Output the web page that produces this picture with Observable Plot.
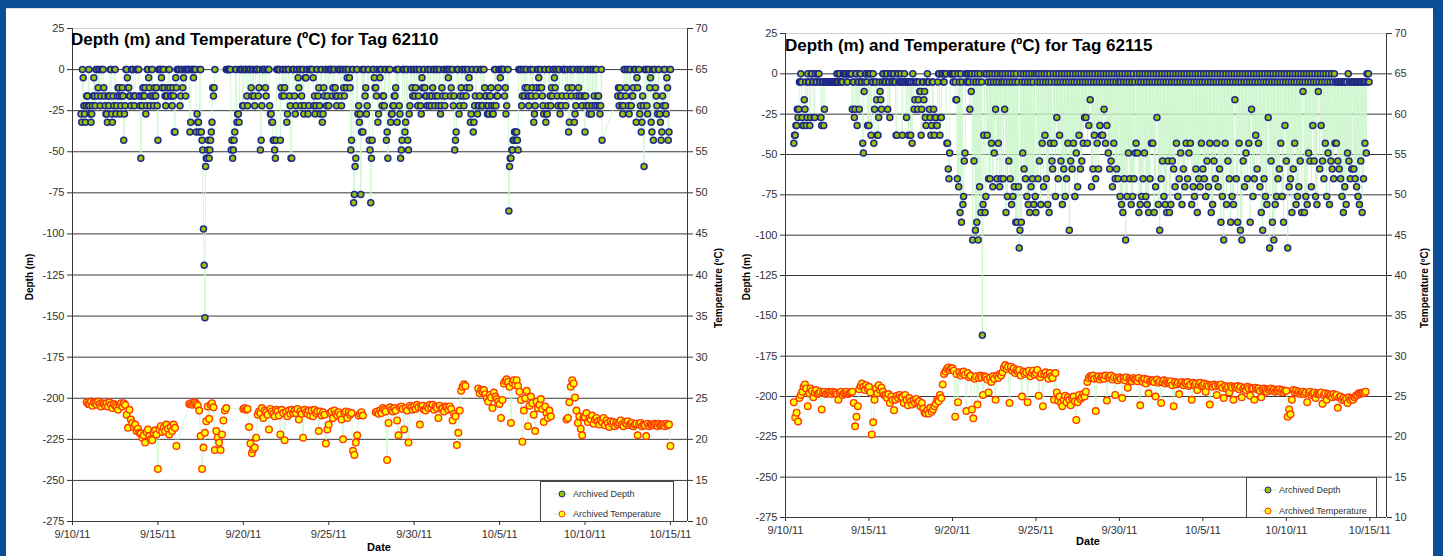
<!DOCTYPE html>
<html><head><meta charset="utf-8">
<script src="https://cdn.jsdelivr.net/npm/d3@7"></script>
<script src="https://cdn.jsdelivr.net/npm/@observablehq/plot@0.6"></script>
<style>
body{margin:0;background:#fff;font-family:"Liberation Sans",Arial,sans-serif;}
#wrap{position:relative;width:1443px;height:556px;overflow:hidden;background:#fff;}
.bar{position:absolute;background:#0b4d97;}
.abs{position:absolute;white-space:nowrap;}
.panel{position:absolute;top:0;}
.title{position:absolute;white-space:nowrap;font-weight:bold;font-size:17px;color:#000;line-height:20px;}
.ylab{position:absolute;white-space:nowrap;font-weight:bold;font-size:10px;color:#000;transform:translate(-50%,-50%) rotate(-90deg);}
.xlab{position:absolute;white-space:nowrap;font-weight:bold;font-size:11px;color:#000;transform:translate(-50%,-50%);}
.legend{position:absolute;border:1px solid #444;background:#fff;font-size:9px;color:#333;box-sizing:border-box;}
.legend .item{position:absolute;left:0;height:12px;display:flex;align-items:center;}
</style></head><body><div id="wrap"></div>
<script>
// ---------- shared axis values ----------
const dateTicks = ["2011-09-10","2011-09-15","2011-09-20","2011-09-25","2011-09-30","2011-10-05","2011-10-10","2011-10-15"];
const xDomain = ["2011-09-10","2011-10-16"];
const depthTicks = [25,0,-25,-50,-75,-100,-125,-150,-175,-200,-225,-250,-275];
const tempTicks  = [70,65,60,55,50,45,40,35,30,25,20,15,10];
const seriesNames = ["Archived Depth","Archived Temperature"];

// ---------- Tag 62110 ----------
const title62110 = "Depth (m) and Temperature (ºC) for Tag 62110";
const depthStart62110 = "2011-09-10T12:00:00Z";   // hourly depth (m)
const depth62110 = [
-27,-32,0,-5,-22,-27,-32,-22,-16,-16,-22,0,
-22,-27,-32,-27,-22,-16,-5,-16,-22,0,0,-16,-11,0,0,-22,-16,0,0,0,-11,-16,-22,-27,
-27,-32,-16,-22,-16,0,0,-27,-32,-16,-22,0,0,-27,-22,-16,-11,-11,-16,-27,-22,-16,-11,-16,
-43,-27,-22,0,0,-5,-11,-11,-16,-16,-22,0,0,0,-16,-22,-16,0,0,0,0,0,-16,-22,
-54,-16,-22,-11,-16,-16,-11,-27,-22,0,0,-5,-11,-22,-16,0,0,-16,-22,-11,-16,-16,-11,-22,
-43,0,0,0,0,-5,-11,0,0,-11,-16,-22,-16,-16,-11,0,0,-11,-16,-16,-22,-11,-16,-38,
-38,-5,-11,0,0,0,0,-22,-16,0,0,-11,-5,0,0,-16,0,0,0,0,0,-38,-32,0,
0,0,-5,0,0,0,-38,-27,-32,-32,-38,0,0,-38,-43,-49,-97,-119,-151,-59,-54,-54,-49,-43,
-54,-49,-43,-38,-32,-11,-16,-11,0,null,null,null,null,null,null,null,null,null,null,null,null,null,null,null,
0,0,0,0,0,0,0,-49,-43,-54,-49,-43,-38,0,0,-32,-27,-27,-32,0,0,0,0,-22,
-22,0,0,0,0,-16,-22,0,0,0,0,-11,-16,0,0,-16,-22,0,0,0,0,-16,-11,0,
-49,-43,-22,0,0,0,0,-11,-16,0,0,0,0,-22,-27,-27,-32,-32,-43,-43,-49,-54,-43,0,
0,0,0,0,-43,-11,-16,0,0,-16,-11,0,0,-32,-27,0,0,-16,-22,-54,-54,0,0,0,
-16,-27,-22,0,0,-5,-11,0,0,-22,-16,0,0,-27,-22,-5,-5,0,0,-27,-22,0,0,0,
0,0,-5,-22,-16,-27,-22,0,0,-16,-11,-22,-27,0,0,-32,-27,-11,-16,0,0,-22,-16,0,
-22,0,0,0,0,-16,-11,0,0,-11,-16,-22,-16,0,0,0,0,-16,-22,0,0,-11,-16,0,
0,-11,-5,0,0,-5,-11,-49,-43,0,0,-81,-76,-59,-54,0,0,-27,-22,-32,-27,-76,-38,0,
-38,0,0,-16,-11,-27,-22,0,0,-43,-49,-81,-54,-43,0,0,-5,-11,-11,-16,0,-32,-27,0,
-5,0,0,-22,-16,-16,-22,0,0,-43,-38,-54,0,0,0,-32,-27,-27,-22,-22,-16,-16,-11,0,
-32,0,0,-22,-27,-54,-49,-43,0,0,0,-38,-32,0,0,-43,-49,-27,-22,0,0,-11,-16,0,
0,-16,-11,0,0,-22,-16,0,0,-22,-27,-5,-11,0,0,-11,-16,-16,-22,0,0,-22,-16,0,
-22,-16,-11,0,0,-22,-16,0,0,-16,-22,0,0,-27,-22,-11,-16,0,0,-22,-16,0,0,0,
-5,0,0,-16,-11,0,0,-22,-16,-49,-43,-38,0,0,0,-27,-22,-16,-11,0,0,-16,-22,0,
0,-16,-11,0,0,-5,-11,-32,-27,0,0,-38,-32,-22,-16,0,0,-27,-22,-22,-16,0,0,-22,
-22,0,0,-11,-16,-16,-22,-27,-22,-27,-16,-16,-11,-22,-27,-27,-22,0,0,-22,-16,-16,-11,0,
0,-5,0,0,0,0,0,-16,-11,-27,-22,0,0,-86,-59,-54,-54,-49,-49,-43,-43,-38,-38,-43,
-38,-43,-49,0,0,0,0,-22,-16,0,0,-16,-11,0,0,-11,-16,-22,-16,0,0,-16,-11,0,
-32,-27,-22,-16,-11,0,0,-5,-11,0,0,-11,-16,-22,-27,0,0,-32,-27,-27,-22,0,0,-16,
-22,-11,-16,0,0,-5,-11,0,0,-16,-22,0,0,-27,-22,-22,-16,0,0,0,0,-22,-16,0,
-11,-38,-32,0,0,-16,-11,0,0,-32,-27,-22,-16,0,0,-11,-16,0,0,-16,-22,0,0,-16,
-38,-16,-22,0,0,-22,-27,0,0,-27,-22,0,0,-16,-22,0,0,-22,-16,-16,-22,-27,-22,0,
-43,null,null,null,null,null,null,null,null,null,null,null,null,null,null,null,null,null,null,null,null,null,-16,-11,
-22,-11,-16,-16,-22,-27,-22,0,0,-16,-11,0,0,-22,-27,0,0,-22,-16,-16,-11,0,0,0,
-32,-5,-11,0,0,-27,-22,-38,-32,-16,-22,-59,0,0,0,-22,-27,0,0,-11,-5,-32,-38,0,
-43,0,0,-11,-16,-22,-27,0,0,-27,-32,-43,-38,-16,-22,0,0,-22,-27,-5,-11,-43,-38,0,
0];
const tempStart62110 = "2011-09-10T20:00:00Z";    // temperature (ºC) every 2 h
const temp62110 = [
24.5,24.3,
24.3,24.6,24.1,24.5,24.4,24.2,24.6,24.3,24.0,24.4,24.3,24.1,
24.4,24.0,24.5,24.2,23.8,24.3,24.1,23.9,23.6,24.2,24.4,24.0,
24.4,24.2,23.0,21.4,23.6,22.4,22.0,21.5,21.8,21.0,21.3,20.8,
20.7,20.2,20.5,19.6,20.9,21.2,20.4,20.0,19.9,20.8,21.1,20.6,
16.4,21.2,21.6,20.9,21.4,21.0,21.8,21.3,20.6,21.5,21.0,21.8,
21.4,19.2,null,null,null,null,null,null,null,null,24.3,24.4,
24.2,24.4,24.5,24.3,24.1,23.5,20.4,16.4,19.0,20.8,22.2,24.0,
22.5,24.2,24.4,23.9,18.7,21.0,20.2,19.6,18.7,20.6,22.3,23.5,
23.8,null,null,null,null,null,null,null,null,null,null,null,
23.7,23.8,23.6,23.7,21.5,19.5,18.3,18.8,19.0,20.2,23.0,23.4,
23.2,23.8,22.6,23.5,23.3,23.0,21.2,23.7,23.4,23.1,22.8,23.6,
23.4,22.9,20.6,23.6,23.2,19.9,23.3,22.8,23.5,23.1,23.6,23.2,
23.5,23.2,23.7,22.4,23.4,23.1,20.2,23.6,23.3,23.1,23.5,22.9,
23.5,22.8,23.6,23.2,23.4,21.0,23.4,22.9,23.3,23.0,19.5,21.2,
21.8,23.2,23.4,22.6,23.5,23.1,22.9,23.3,23.0,22.4,20.0,23.2,
23.4,22.6,23.3,23.0,23.2,18.6,18.1,19.6,20.5,22.9,23.1,23.3,
22.9,null,null,null,null,null,null,null,null,23.3,23.4,23.1,
23.5,23.2,23.8,23.6,23.4,17.5,22.0,23.9,23.6,23.4,23.8,23.5,
22.3,20.5,23.9,24.0,23.7,21.2,23.8,23.5,19.6,24.1,23.9,23.6,
24.0,23.7,24.2,23.9,21.8,23.9,24.1,23.6,23.5,24.0,23.8,24.2,
23.9,24.2,23.6,24.0,23.8,22.6,24.1,23.7,23.8,23.4,24.0,23.9,
23.6,24.0,23.7,22.3,23.1,22.8,19.3,20.8,23.5,25.9,26.4,26.7,
26.5,null,null,null,null,null,null,null,null,26.2,25.6,26.0,
25.8,26.0,25.5,25.0,24.6,25.4,25.1,23.8,25.7,25.2,24.9,24.6,
24.3,22.6,24.8,26.8,27.1,27.3,27.0,26.4,22.0,26.9,27.2,26.6,
27.2,26.5,25.8,24.8,19.7,23.5,25.0,25.9,21.6,24.1,25.2,24.4,
23.0,21.0,24.6,23.8,24.2,24.9,23.7,22.1,24.0,23.2,22.6,23.5,
22.8,null,null,null,null,null,null,null,null,null,null,22.4,
22.6,24.5,26.4,27.2,26.8,25.1,23.5,22.0,22.8,21.3,20.5,22.7,
22.7,23.2,22.1,22.6,22.4,22.9,21.9,22.4,22.6,22.2,21.8,22.3,
22.1,22.6,21.7,22.3,22.0,21.5,22.2,21.9,22.1,21.6,22.0,21.8,
22.0,22.3,21.8,21.6,22.1,21.9,22.2,21.7,21.9,22.0,21.6,21.8,
21.9,20.5,21.8,22.0,21.6,21.8,21.7,20.4,21.9,21.6,21.8,21.7,
21.7,21.9,21.8,21.6,21.9,21.7,21.8,21.8,21.6,21.9,21.7,21.8,
19.2];

// ---------- Tag 62115 ----------
const title62115 = "Depth (m) and Temperature (ºC) for Tag 62115";
const depthStart62115 = "2011-09-10T12:00:00Z";   // hourly depth (m)
const depth62115 = [
-43,-38,-38,-32,-32,-22,-27,-22,-5,-5,0,-5,
-27,-32,-32,-16,-22,-5,-32,-27,0,-5,-5,-32,-27,0,0,-5,-5,-27,-27,0,-5,-5,0,0,
0,-5,-5,-27,-32,-5,-5,-32,-22,-5,-5,-5,-5,-5,-5,-5,-5,-5,-5,-5,-5,-5,-5,-5,
-5,-5,0,-5,-5,0,0,-5,-5,-5,-5,0,0,0,0,0,-5,-5,0,0,0,0,0,0,
-22,-5,-5,-27,-22,0,0,-32,-5,-5,-22,0,0,-5,-5,-43,-49,-11,-5,0,0,-5,-32,0,
-32,0,0,-38,-5,-5,0,-43,-22,-5,-5,-16,-38,-38,-27,-5,-11,-16,-22,-5,0,0,-5,-5,
-5,0,0,-22,-5,-5,-27,0,0,-5,-5,0,0,-5,-5,-38,-38,0,0,-5,-5,-5,0,-5,
-38,-5,-5,0,-5,-5,-27,-5,-5,-38,-5,-5,-38,-5,-43,0,-5,-22,-16,-5,-5,-5,-22,-16,
-5,-11,-11,-38,-22,-5,-5,-16,-11,-27,-32,-5,0,-5,-5,-22,-27,-38,-32,-5,-5,-22,-38,-27,
-27,-32,-32,-5,0,0,-38,-27,-27,0,0,-5,-5,0,0,0,-43,-43,-59,-65,-49,0,0,0,
0,-5,0,0,-5,-16,-16,-65,0,-70,-5,-86,0,-92,-5,-81,-76,-54,-49,0,-5,0,-5,0,
-5,-22,0,-11,0,-103,-5,-54,0,-97,-5,-92,0,-103,-5,-70,0,-86,-5,-162,-81,-38,0,-86,
-76,0,-38,-5,-65,0,-65,-5,-43,0,-70,-5,-49,0,-22,-5,-65,0,-43,-5,-70,0,-65,-5,
0,-65,-5,-22,0,-86,-5,-76,0,-54,-5,-65,0,-81,-5,-76,0,-70,-5,-92,0,-92,-5,-70,
-108,-97,0,-92,-5,-49,0,-59,-5,-65,0,-76,-5,-81,0,-86,-5,-70,0,-65,-5,-81,0,-76,
-86,0,-5,-65,0,-54,-5,-81,0,-43,-5,-70,0,-38,-5,-65,0,-81,-5,-86,0,-43,-5,-54,
-59,0,-43,-5,-76,0,-27,-5,-65,0,-38,-5,-54,0,-81,-5,-59,0,-76,-5,-65,0,-43,-5,
-97,0,-54,-5,-59,0,-43,-5,-76,0,-49,-5,-70,0,-38,-5,-59,0,-54,-5,-43,0,-27,-5,
-27,0,-43,-5,-32,0,-16,-5,-70,0,-59,-5,-38,0,-65,-5,-43,0,-59,-5,-32,0,-38,-5,
-38,0,-22,-5,-43,0,-32,-5,-49,0,-59,-5,-54,0,-70,-5,-43,0,-65,-5,-59,0,-65,-5,
0,-76,-5,-81,0,-86,-5,-65,0,-103,-5,-76,0,-49,-5,-65,0,-81,-5,-76,0,-65,-5,-49,
-43,0,-49,-5,-86,0,-81,-5,-76,0,-65,-5,-49,0,-76,-5,-81,0,-86,-5,-65,0,-43,-5,
-43,0,-86,-5,-70,0,-27,-5,-81,0,-97,-5,-65,0,-54,-5,-76,0,-81,-5,-86,0,-54,-5,
-86,0,-81,-5,-54,0,-59,-5,-70,0,-43,-5,-76,0,-65,-5,-49,0,-81,-5,-59,0,-70,-5,
-43,0,-65,-5,-49,0,-43,-5,-81,0,-70,-5,-76,0,-59,-5,-86,0,-65,-5,-70,0,-43,-5,
-59,0,-65,-5,-76,0,-54,-5,-70,0,-43,-5,-86,0,-81,-5,-54,0,-65,-5,-43,0,-70,-5,
-59,0,-92,-5,-76,0,-103,-5,-43,0,-81,-5,-54,0,-65,-5,-92,0,-76,-5,-81,0,-16,-5,
-65,0,-92,-5,-43,0,-97,-5,-103,0,-54,-5,-70,0,-49,-5,-65,0,-43,-5,-92,0,-22,-5,
-76,0,-65,-5,-38,0,-59,-5,-43,0,-70,-5,-86,0,-97,-5,-65,0,-76,-5,-81,0,-27,-5,
-108,0,-54,-5,-92,0,-103,-5,-81,0,-76,-5,-65,0,-59,-5,-43,0,-76,-5,-92,0,-32,-5,
-54,0,-108,-5,-70,0,-65,-5,-86,0,-59,-5,-43,0,-81,-5,-76,0,-70,-5,-54,0,-86,-5,
-11,0,-86,-5,-76,0,-81,-5,-49,0,-54,-5,-70,0,-32,-5,-54,0,-76,-5,-81,0,-11,-5,
-59,0,-32,-5,-54,0,-65,-5,-43,0,-76,-5,-49,0,-81,-5,-54,0,-59,-5,-65,0,-43,-5,
-43,-5,-54,-5,-59,-5,-65,-5,-76,-5,-86,-5,-70,-5,-81,-5,-49,0,-54,-5,-65,-5,-59,-5,
-5,-59,-5,-65,-5,-70,-5,-76,-5,-81,-5,-54,-5,-86,-5,-65,-5,-43,-5,-49,0,-5,0,-5];
const tempStart62115 = "2011-09-10T12:00:00Z";    // temperature (ºC) every 2 h
const temp62115 = [
24.3,22.4,23.0,21.9,24.8,25.2,
25.6,26.2,26.5,26.0,23.8,25.4,26.0,25.7,24.9,25.5,25.8,25.3,
25.4,25.6,23.4,25.5,25.6,25.3,25.4,25.6,25.5,25.3,25.6,25.4,
25.5,25.3,24.6,25.4,25.6,25.2,25.4,25.5,25.6,25.3,25.4,25.5,
25.6,24.2,21.3,22.5,23.8,25.9,26.3,26.6,26.2,25.8,26.4,26.0,
26.2,25.5,20.3,21.8,24.6,26.0,25.4,26.4,25.8,26.1,25.6,25.2,
25.1,24.8,25.3,24.2,25.0,24.6,23.3,24.6,25.1,24.8,25.2,24.9,
24.9,24.2,25.2,24.6,23.9,24.8,24.4,24.0,24.5,24.2,24.7,24.3,
24.4,23.8,24.2,23.5,23.0,22.9,23.3,22.9,23.6,23.1,23.4,23.8,
24.1,24.6,24.4,25.2,24.8,26.5,27.8,28.1,28.4,28.6,28.3,28.5,
28.5,28.2,22.5,27.8,24.3,28.0,27.6,27.9,28.1,27.7,23.2,27.9,
27.4,27.6,23.4,22.3,27.2,27.5,24.0,27.3,27.6,27.4,25.2,27.5,
27.4,27.1,25.5,27.3,26.8,27.5,27.2,24.6,27.6,27.3,27.8,27.6,
28.0,28.6,28.9,28.4,28.7,24.2,28.7,28.2,28.5,27.9,28.3,28.1,
28.3,27.6,25.0,28.1,27.8,28.0,24.3,28.2,27.5,27.9,28.2,27.7,
27.9,28.3,25.1,27.4,27.8,23.8,27.8,28.0,27.6,27.2,27.9,27.5,
27.3,24.6,27.9,25.5,24.5,25.0,24.2,23.8,24.6,25.1,24.3,24.9,
24.6,23.9,24.8,25.0,24.4,22.1,24.3,25.2,24.7,24.9,25.3,25.0,
25.6,26.8,27.3,27.5,27.4,27.6,27.2,23.2,27.3,27.5,27.1,27.4,
27.5,27.2,27.6,24.5,27.4,27.3,27.6,27.1,27.4,25.2,27.3,27.0,
27.4,27.2,24.8,27.3,27.0,27.4,26.1,27.2,27.0,26.9,27.3,27.1,
27.1,26.9,27.3,23.9,27.0,26.8,27.2,26.6,27.1,25.4,26.9,27.0,
27.0,26.8,25.0,27.1,26.7,26.9,24.2,26.8,27.0,26.6,26.9,26.7,
26.7,26.9,26.4,23.8,26.8,26.5,26.7,25.3,26.6,26.8,26.4,26.7,
26.6,26.8,26.3,26.5,24.6,26.7,26.4,26.6,25.8,26.5,26.7,26.3,
26.4,26.6,25.6,26.5,26.3,24.0,26.4,26.2,26.5,26.3,25.2,26.4,
26.3,26.5,26.1,24.8,26.3,26.0,26.2,25.5,26.3,26.1,24.6,26.2,
26.1,26.3,25.9,26.2,24.9,26.0,26.1,25.8,26.2,26.0,25.1,26.1,
26.0,24.6,26.1,25.9,26.0,25.7,24.9,25.9,26.0,25.8,25.6,25.9,
25.8,26.0,25.7,25.9,25.6,25.8,25.7,25.9,25.6,25.8,25.5,25.7,
25.7,22.5,23.4,22.8,24.6,25.8,25.5,25.7,25.4,25.6,25.3,25.5,
25.6,25.3,25.5,24.3,25.4,25.6,25.2,25.4,25.5,24.8,25.3,25.4,
25.3,25.5,24.1,25.2,25.4,24.6,25.3,25.1,25.2,24.9,25.3,25.0,
25.2,23.6,24.9,25.0,24.6,24.8,24.5,24.7,24.2,24.9,24.6,24.8,
24.6,24.9,25.1,25.2,25.4,25.3,25.4,25.5,25.4,25.6];

// ---------- drawing ----------
const wrap = document.getElementById("wrap");
const H1 = 3600e3, H2 = 2*3600e3;
const fmtDate = d => `${d.getUTCMonth()+1}/${d.getUTCDate()}/11`;
// right axis: temperature scale aligned with depth ticks (70 ºC at 25 m, 10 ºC at -275 m)
const tempToDepthAxis = t => depthTicks[0] + (t - tempTicks[0]) * (depthTicks[0]-depthTicks[1])/(tempTicks[0]-tempTicks[1]);

function add(html, cls, style){const e=document.createElement("div");e.className=cls;e.innerHTML=html;Object.assign(e.style,style);wrap.appendChild(e);return e;}

function panel(p){
  const depthData = p.depth.map((v,i)=>({t:new Date(Date.parse(p.depthStart)+i*H1), v})).filter(d=>d.v!=null);
  const tempData = p.temp.map((v,i)=>({t:new Date(Date.parse(p.tempStart)+i*H2), v})).filter(d=>d.v!=null);
  const ticksX = dateTicks.map(d=>new Date(d));
  const chart = Plot.plot({
    width:p.w, height:556,
    marginLeft:p.ml, marginRight:p.mr, marginTop:p.mt, marginBottom:p.mb,
    style:{fontFamily:'"Liberation Sans", Arial, sans-serif', fontSize:"11px", color:"#333", background:"transparent", overflow:"visible"},
    x:{type:"utc", domain:xDomain.map(d=>new Date(d))},
    y:{domain:[-275,25]},
    marks:[
      Plot.ruleY([25],{stroke:"#d0d0d0"}),
      Plot.ruleY(depthTicks.filter(d=>d<25),{stroke:"#3a3a3a", strokeWidth:1}),
      Plot.ruleX(xDomain.map(d=>new Date(d)),{stroke:"#3a3a3a"}),
      Plot.line(depthData,{x:"t",y:"v",stroke:"#c8f5c8",strokeWidth:0.8}),
      Plot.line(tempData,{x:"t",y:d=>tempToDepthAxis(d.v),stroke:"#c8f5c8",strokeWidth:0.8}),
      Plot.dot(depthData,{x:"t",y:"v",r:3,fill:"#99c400",stroke:"#1e2a88",strokeWidth:1.5}),
      Plot.dot(tempData,{x:"t",y:d=>tempToDepthAxis(d.v),r:3.3,fill:"#ffff00",stroke:"#ff3a00",strokeWidth:1.4}),
      Plot.axisY({anchor:"left",ticks:depthTicks,tickFormat:d=>String(d),tickSize:5,tickPadding:3,label:null}),
      Plot.axisY({anchor:"right",ticks:depthTicks,tickFormat:d=>String(tempTicks[depthTicks.indexOf(d)]),tickSize:5,tickPadding:3,label:null}),
      Plot.axisX({ticks:ticksX,tickFormat:fmtDate,tickSize:4,tickPadding:5,label:null})
    ]
  });
  const holder = add("", "panel", {left:p.x+"px", width:p.w+"px", height:"556px"});
  holder.appendChild(chart);
  add(p.title,"title",{left:p.tx+"px", top:p.ty+"px"});
  add("Depth (m)","ylab",{left:p.dlx+"px", top:"277px"});
  add("Temperature (ºC)","ylab",{left:p.tlx+"px", top:"288px"});
  add("Date","xlab",{left:p.datex+"px", top:p.datey+"px"});
  const lg = add("","legend",{left:p.lgx+"px", top:p.lgy+"px", width:p.lgw+"px", height:p.lgh+"px"});
  const sw = [["#99c400","#1e2a88"],["#ffff00","#ff3a00"]];
  seriesNames.forEach((n,i)=>{
    const it=document.createElement("div");it.className="item";
    it.style.top=(i===0?p.lgr1:p.lgr2)+"px";
    it.innerHTML=`<svg width="32" height="12"><line x1="12" x2="30" y1="6" y2="6" stroke="#c8f5c8"/><circle cx="21" cy="6" r="3" fill="${sw[i][0]}" stroke="${sw[i][1]}"/></svg><span>${n}</span>`;
    lg.appendChild(it);
  });
}

panel({x:0,w:720,ml:72,mr:33,mt:28,mb:35,depth:depth62110,depthStart:depthStart62110,temp:temp62110,tempStart:tempStart62110,
  title:title62110,tx:71,ty:30,dlx:29,tlx:718,datex:379,datey:547,lgx:540,lgy:481,lgw:134,lgh:41,lgr1:6,lgr2:26});
panel({x:722,w:711,ml:63,mr:47,mt:33,mb:39,depth:depth62115,depthStart:depthStart62115,temp:temp62115,tempStart:tempStart62115,
  title:title62115,tx:785,ty:36,dlx:746,tlx:1424,datex:1088,datey:541,lgx:1246,lgy:477,lgw:131,lgh:41,lgr1:6,lgr2:27});

// frame bars
add("","bar",{left:"0px",top:"0px",width:"1443px",height:"8px"});
add("","abs",{left:"0px",top:"8px",width:"1443px",height:"1px",background:"#d5deea"});
add("","bar",{left:"0px",top:"0px",width:"6px",height:"556px"});
add("","bar",{left:"1433px",top:"0px",width:"10px",height:"556px"});
</script></body></html>
